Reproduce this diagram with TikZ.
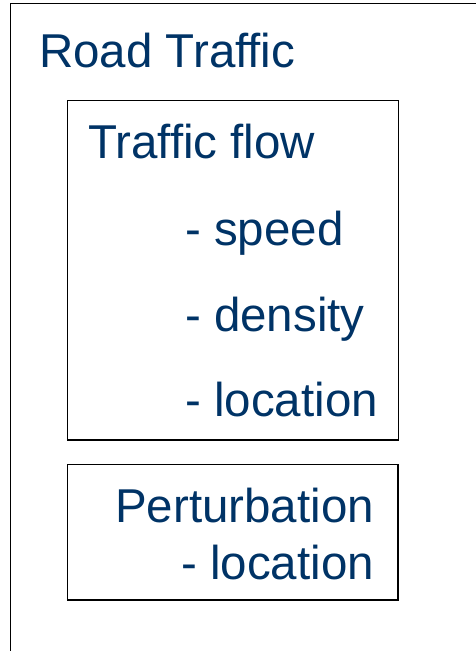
\documentclass[tikz,border=0pt]{standalone}
\usepackage{fontspec}
\setmainfont{Liberation Sans}
\usepackage{tikz}
\usetikzlibrary{positioning}
\definecolor{roadblue}{RGB}{0,51,102}

\begin{document}
\begin{tikzpicture}[x=1pt, y=-1pt, node distance=86pt]
\tikzstyle{box}=[draw=black, line width=1.6pt]
\tikzstyle{txt}=[text=roadblue, font=\fontsize{47.5}{58}\selectfont, inner sep=0pt, anchor=base west]
\clip (0,0) rectangle (476,651);
% frames
\draw[box, line width=1.8pt] (10.5,3.5) rectangle (520,700);
\draw[box] (67.5,100.5) rectangle (398.5,440);
\draw[box] (67.5,464.5) rectangle (398,600);
% labels
\node[txt]    (road)    at (39,67)      {Road Traffic};
\node[txt]    (flow)    at (88,158)     {Traffic flow};
\node[txt]    (speed)   at (185,245)    {- speed};
\node[txt]    (density) [below=of speed.base west, anchor=base west]   {- density};
\node[txt]    (loc)     [below=85pt of density.base west, anchor=base west] {- location};
\node[txt]    (pert)    at (115,522)    {Perturbation};
\node[txt]    (ploc)    [below=57pt of pert.base east, anchor=base east]   {- location};
\end{tikzpicture}
\end{document}
